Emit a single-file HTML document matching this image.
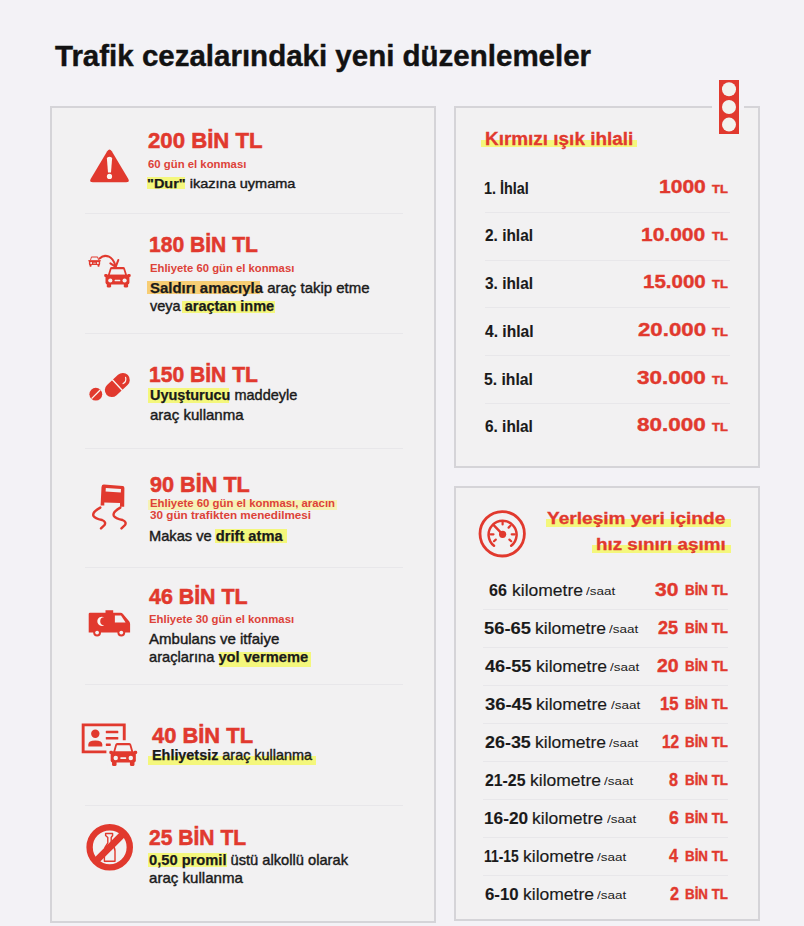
<!DOCTYPE html>
<html lang="tr"><head><meta charset="utf-8"><title>Trafik cezalarındaki yeni düzenlemeler</title>
<style>
*{margin:0;padding:0;box-sizing:border-box}
html,body{width:804px;height:926px;overflow:hidden;background:#f3f2f6}
body{position:relative;font-family:"Liberation Sans",Arial,sans-serif}
.t{position:absolute;white-space:nowrap;line-height:1}
.t b{font-weight:700}
.panel{position:absolute;border:2px solid #d5d4d8;background:#f2f1f2}
.sep{position:absolute;height:1px;background:#e8e7ea}
.hl{position:absolute}
.big{-webkit-text-stroke:0.55px currentColor}
.bd{-webkit-text-stroke:0.4px currentColor}
.bd b{-webkit-text-stroke:0.25px currentColor}
.ttl{-webkit-text-stroke:0.4px currentColor}
.rv{-webkit-text-stroke:0.4px currentColor}
.hd{-webkit-text-stroke:0.3px currentColor}
.lab{-webkit-text-stroke:0.1px currentColor}
.kmc{-webkit-text-stroke:0.15px currentColor}
</style></head>
<body>
<div class="panel" style="left:50px;top:106px;width:386px;height:817px"></div>
<div class="panel" style="left:454px;top:106px;width:306px;height:362px"></div>
<div class="panel" style="left:454px;top:486px;width:306px;height:435px"></div>
<div style="position:absolute;left:712px;top:104px;width:32px;height:6px;background:#f3f2f6"></div>
<div class="sep" style="left:85px;top:213px;width:318px"></div>
<div class="sep" style="left:85px;top:333px;width:318px"></div>
<div class="sep" style="left:85px;top:447.5px;width:318px"></div>
<div class="sep" style="left:85px;top:567px;width:318px"></div>
<div class="sep" style="left:85px;top:684px;width:318px"></div>
<div class="sep" style="left:85px;top:805px;width:318px"></div>
<div class="sep" style="left:485px;top:212.0px;width:245px"></div>
<div class="sep" style="left:485px;top:259.7px;width:245px"></div>
<div class="sep" style="left:485px;top:307.4px;width:245px"></div>
<div class="sep" style="left:485px;top:355.1px;width:245px"></div>
<div class="sep" style="left:485px;top:402.8px;width:245px"></div>
<div class="sep" style="left:483px;top:608.5px;width:245px"></div>
<div class="sep" style="left:483px;top:646.5px;width:245px"></div>
<div class="sep" style="left:483px;top:684.5px;width:245px"></div>
<div class="sep" style="left:483px;top:722.5px;width:245px"></div>
<div class="sep" style="left:483px;top:760.5px;width:245px"></div>
<div class="sep" style="left:483px;top:798.5px;width:245px"></div>
<div class="sep" style="left:483px;top:836.5px;width:245px"></div>
<div class="sep" style="left:483px;top:874.5px;width:245px"></div>
<div class="hl" style="left:146.5px;top:176.7px;width:38.0px;height:12.2px;background:#f4f77c"></div>
<div class="hl" style="left:147px;top:280.5px;width:113.0px;height:13.0px;background:#f7cd74"></div>
<div class="hl" style="left:182px;top:300.5px;width:93.0px;height:12.2px;background:#f4f77c"></div>
<div class="hl" style="left:147.5px;top:388.4px;width:81.5px;height:14.9px;background:#f4f77c"></div>
<div class="hl" style="left:148px;top:500px;width:189.0px;height:9.5px;background:#f6f2b4"></div>
<div class="hl" style="left:214.6px;top:529px;width:72.3px;height:14.0px;background:#f4f77c"></div>
<div class="hl" style="left:219px;top:651.6px;width:91.7px;height:15.6px;background:#f4f77c"></div>
<div class="hl" style="left:147.5px;top:755.8px;width:168.5px;height:9.0px;background:#f4f77c"></div>
<div class="hl" style="left:147.5px;top:853.4px;width:79.1px;height:13.8px;background:#f4f77c"></div>
<div class="hl" style="left:481.3px;top:139.9px;width:155.4px;height:7.3px;background:#f4f77c"></div>
<div class="hl" style="left:546.2px;top:518.7px;width:185.3px;height:8.7px;background:#f4f77c"></div>
<div class="hl" style="left:592.2px;top:544.8px;width:139.3px;height:8.7px;background:#f4f77c"></div>
<svg style="position:absolute;left:0;top:0" width="804" height="926" viewBox="0 0 804 926">
<defs>
<g id="car">
  <path d="M3.6 8.2 L5.7 1.4 Q6.1 0 7.4 0 L19.1 0 Q20.4 0 20.8 1.4 L22.9 8.2 Z" fill="#e1392e"/>
  <path d="M5.6 7.7 L7.3 2.1 L19.2 2.1 L20.9 7.7 Z" fill="#f2f1f2"/>
  <rect x="0" y="7" width="3.4" height="2.8" rx="1.2" fill="#e1392e"/>
  <rect x="23.1" y="7" width="3.4" height="2.8" rx="1.2" fill="#e1392e"/>
  <rect x="1.3" y="7.6" width="23.9" height="9.8" rx="2" fill="#e1392e"/>
  <rect x="2.6" y="15" width="4.3" height="5.5" rx="1.4" fill="#e1392e"/>
  <rect x="19.6" y="15" width="4.3" height="5.5" rx="1.4" fill="#e1392e"/>
  <circle cx="6.1" cy="13.4" r="2.1" fill="#f2f1f2"/>
  <circle cx="20.4" cy="13.4" r="2.1" fill="#f2f1f2"/>
  <rect x="10.4" y="12.7" width="5.7" height="1.5" rx="0.6" fill="#f2f1f2"/>
</g>
</defs>
<g fill="#e1392e" stroke="none">
<!-- 1 warning -->
<path d="M107.2 151.2 Q109.5 147.6 111.8 151.2 L128.2 178.8 Q130.2 182.3 126 182.3 L93 182.3 Q88.8 182.3 90.8 178.8 Z"/>
<path d="M106.9 158.5 Q106.9 156.8 109.5 156.8 Q112.1 156.8 112.1 158.5 L111 172.6 L108 172.6 Z" fill="#fbf6f2"/>
<circle cx="109.5" cy="176.4" r="2.6" fill="#fbf6f2"/>

<!-- 2 car follow -->
<use href="#car" transform="translate(88.3 256.4) scale(0.47 0.5)"/>
<path d="M99.6 258.6 Q103.5 254.6 108.6 256.4 Q113.2 258.4 115.4 265.6" fill="none" stroke="#e1392e" stroke-width="2.1" stroke-linecap="round"/>
<path d="M110.4 263.4 L115.7 266.9 L118.3 260" fill="none" stroke="#e1392e" stroke-width="2.1" stroke-linecap="round" stroke-linejoin="round"/>
<use href="#car" transform="translate(104.2 267.1)"/>

<!-- 3 pills -->
<circle cx="95.8" cy="394.2" r="6.4"/>
<line x1="91.6" y1="398.6" x2="100.2" y2="390" stroke="#fbf6f2" stroke-width="1.3"/>
<g transform="translate(117.3 385) rotate(-43)">
  <rect x="-14.5" y="-7" width="29" height="14" rx="7"/>
  <line x1="0" y1="-7.5" x2="0" y2="7.5" stroke="#fbf6f2" stroke-width="1.3"/>
  </g>
<path d="M125.6 377.3 Q126.8 381.4 123.1 383.6" fill="none" stroke="#fbf6f2" stroke-width="1.2" stroke-linecap="round"/>

<!-- 4 skid car -->
<path d="M104 484.6 L122.8 486.1 Q124.4 486.3 124.4 488 L124.2 506.8 L120 506.8 L120 503 L104.3 502.4 L104.3 505.4 L100.6 505.4 L101.5 487 Q101.8 484.4 104 484.6 Z"/>
<path d="M105.8 488 L121 489 L120.8 492.4 L105.6 491.6 Z" fill="#f2f1f2"/>
<path d="M100.3 507.6 Q92 512 93.4 515.8 Q95 518.5 102 520 Q106.5 522 104.5 525 L101 528.4" fill="none" stroke="#e1392e" stroke-width="2.4" stroke-linecap="round"/>
<path d="M120.3 507.6 Q112.3 512 113.8 515.8 Q115.5 518.5 122.5 520 Q127 522 125 525 L121.5 528.4" fill="none" stroke="#e1392e" stroke-width="2.4" stroke-linecap="round"/>

<!-- 5 ambulance -->
<path d="M88.7 614 Q88.7 612.7 90 612.7 L105.5 612.7 L105.5 610.2 L113.2 610.2 L113.2 612.7 L120.5 612.7 Q122 612.7 123 614 L129.3 621.5 Q130.1 622.5 130.1 624 L130.1 632.6 L88.7 632.6 Z"/>
<path d="M114.9 615.4 L121 615.4 L125.6 622.6 L114.9 622.6 Z" fill="#f2f1f2"/>
<circle cx="97.1" cy="632.6" r="3.9"/>
<circle cx="121.3" cy="632.6" r="3.9"/>
<circle cx="97.1" cy="632.6" r="1.9" fill="#f2f1f2"/>
<circle cx="121.3" cy="632.6" r="1.9" fill="#f2f1f2"/>
<path d="M104.2 617.3 A4.6 4.6 0 1 0 104.2 625.3 A3.7 3.7 0 1 1 104.2 617.3 Z" fill="#fbf6f2"/>

<!-- 6 license -->
<path d="M106.4 751.9 L83.15 751.9 L83.15 724.85 L124.25 724.85 L124.25 740.2" fill="none" stroke="#e1392e" stroke-width="2.9"/>
<circle cx="95.3" cy="733.7" r="4.2"/>
<path d="M88.3 746.4 L88.3 744.5 Q88.3 740.4 95.3 740.4 Q102.3 740.4 102.3 744.5 L102.3 746.4 Z"/>
<rect x="105.8" y="730.8" width="12.5" height="2.5" rx="0.6"/>
<rect x="105.8" y="737" width="12.5" height="2.5" rx="0.6"/>
<rect x="105.8" y="743.4" width="5" height="2.5" rx="0.6"/>
<rect x="111.8" y="741.2" width="27" height="27" fill="#f2f1f2"/>
<rect x="107.6" y="746.5" width="5" height="22" fill="#f2f1f2"/>
<use href="#car" transform="translate(109.3 743) scale(1.053 1.12)"/>

<!-- 7 no alcohol -->
<path d="M105.6 833.5 L112.6 833.5 L112.6 835.5 L111.2 837.5 L111.2 843 Q115 847 115 851 L115 861.2 L104.4 861.2 L104.4 851 Q104.4 847 107.8 843 L107.8 837.5 L105.6 835.5 Z" fill="none" stroke="#e1392e" stroke-width="1.4" stroke-linejoin="round"/>
<circle cx="109.7" cy="847.3" r="20.1" fill="none" stroke="#e1392e" stroke-width="6.4"/>
<line x1="124" y1="833" x2="95.4" y2="861.6" stroke="#e1392e" stroke-width="6.8"/>

<!-- 8 traffic light -->
<rect x="719" y="80" width="20" height="54"/>
<circle cx="729" cy="89.2" r="7" fill="#f2f2ee"/>
<circle cx="729" cy="107" r="7" fill="#f2f2ee"/>
<circle cx="729" cy="124.6" r="7" fill="#f2f2ee"/>

<!-- 9 speedometer -->
<circle cx="502.2" cy="533.8" r="22.2" fill="none" stroke="#e1392e" stroke-width="2.8"/>
<path d="M494 545.8 A14 14 0 1 1 511.2 545.8" fill="none" stroke="#e1392e" stroke-width="2.5" stroke-linecap="round"/>
<g stroke="#e1392e" stroke-width="2.2" stroke-linecap="round">
<line x1="502.6" y1="521.5" x2="502.6" y2="524.5"/>
<line x1="490.5" y1="534.3" x2="493.5" y2="534.3"/>
<line x1="511.7" y1="534.3" x2="514.7" y2="534.3"/>
<line x1="508.6" y1="527.6" x2="510.4" y2="525.8"/>
<line x1="494" y1="541.2" x2="495.8" y2="539.6"/>
<line x1="509.4" y1="539.6" x2="511.2" y2="541.2"/>
<line x1="502.6" y1="534.3" x2="493.2" y2="524.6" stroke-width="2.4"/>
</g>
<circle cx="502.6" cy="534.3" r="3.6"/>
</g>
</svg>

<span id="t0" class="t ttl" style="left:54.60px;top:41.14px;font-size:29.6px;font-weight:700;color:#121212;transform:scaleX(0.9967);transform-origin:0 0;">Trafik cezalarındaki yeni düzenlemeler</span>
<span id="t1" class="t big" style="left:148.01px;top:130.45px;font-size:21.8px;font-weight:700;color:#e1392e;transform:scaleX(1.0168);transform-origin:0 0;">200 BİN TL</span>
<span id="t2" class="t sm" style="left:148.05px;top:159.50px;font-size:10.4px;font-weight:700;color:#dd4239;transform:scaleX(1.0923);transform-origin:0 0;">60 gün el konması</span>
<span id="t3" class="t bd" style="left:146.97px;top:176.79px;font-size:13.6px;font-weight:400;color:#1a1a1a;transform:scaleX(1.0669);transform-origin:0 0;"><b>"Dur"</b> ikazına uymama</span>
<span id="t4" class="t big" style="left:149.21px;top:233.95px;font-size:21.8px;font-weight:700;color:#e1392e;transform:scaleX(0.9664);transform-origin:0 0;">180 BİN TL</span>
<span id="t5" class="t sm" style="left:150.25px;top:263.60px;font-size:10.4px;font-weight:700;color:#dd4239;transform:scaleX(1.0866);transform-origin:0 0;">Ehliyete 60 gün el konması</span>
<span id="t6" class="t bd" style="left:150.23px;top:280.68px;font-size:14.2px;font-weight:400;color:#1a1a1a;transform:scaleX(1.0541);transform-origin:0 0;"><b>Saldırı amacıyla</b> araç takip etme</span>
<span id="t7" class="t bd" style="left:150.21px;top:299.18px;font-size:14.2px;font-weight:400;color:#1a1a1a;transform:scaleX(1.0221);transform-origin:0 0;">veya <b>araçtan inme</b></span>
<span id="t8" class="t big" style="left:149.21px;top:363.95px;font-size:21.8px;font-weight:700;color:#e1392e;transform:scaleX(0.9664);transform-origin:0 0;">150 BİN TL</span>
<span id="t9" class="t bd" style="left:150.21px;top:388.28px;font-size:14.2px;font-weight:400;color:#1a1a1a;transform:scaleX(1.0207);transform-origin:0 0;"><b>Uyuşturucu</b> maddeyle</span>
<span id="t10" class="t bd" style="left:150.23px;top:407.68px;font-size:14.2px;font-weight:400;color:#1a1a1a;transform:scaleX(1.0600);transform-origin:0 0;">araç kullanma</span>
<span id="t11" class="t big" style="left:150.19px;top:473.95px;font-size:21.8px;font-weight:700;color:#e1392e;transform:scaleX(0.9931);transform-origin:0 0;">90 BİN TL</span>
<span id="t12" class="t sm" style="left:150.25px;top:499.10px;font-size:10.4px;font-weight:700;color:#dd4239;transform:scaleX(1.0935);transform-origin:0 0;">Ehliyete 60 gün el konması, aracın</span>
<span id="t13" class="t sm" style="left:150.27px;top:511.10px;font-size:10.4px;font-weight:700;color:#dd4239;transform:scaleX(1.1250);transform-origin:0 0;">30 gün trafikten menedilmesi</span>
<span id="t14" class="t bd" style="left:149.18px;top:528.68px;font-size:14.2px;font-weight:400;color:#1a1a1a;transform:scaleX(1.0331);transform-origin:0 0;">Makas ve <b>drift atma</b></span>
<span id="t15" class="t big" style="left:148.78px;top:586.05px;font-size:21.8px;font-weight:700;color:#e1392e;transform:scaleX(0.9812);transform-origin:0 0;">46 BİN TL</span>
<span id="t16" class="t sm" style="left:148.83px;top:615.10px;font-size:10.4px;font-weight:700;color:#dd4239;transform:scaleX(1.0925);transform-origin:0 0;">Ehliyete 30 gün el konması</span>
<span id="t17" class="t bd" style="left:148.81px;top:632.18px;font-size:14.2px;font-weight:400;color:#1a1a1a;transform:scaleX(1.0589);transform-origin:0 0;">Ambulans ve itfaiye</span>
<span id="t18" class="t bd" style="left:148.80px;top:650.08px;font-size:14.2px;font-weight:400;color:#1a1a1a;transform:scaleX(1.0351);transform-origin:0 0;">araçlarına <b>yol vermeme</b></span>
<span id="t19" class="t big" style="left:151.60px;top:724.85px;font-size:21.8px;font-weight:700;color:#e1392e;transform:scaleX(1.0050);transform-origin:0 0;">40 BİN TL</span>
<span id="t20" class="t bd" style="left:151.60px;top:748.28px;font-size:14.2px;font-weight:400;color:#1a1a1a;transform:scaleX(1.0138);transform-origin:0 0;"><b>Ehliyetsiz</b> araç kullanma</span>
<span id="t21" class="t big" style="left:148.78px;top:826.95px;font-size:21.8px;font-weight:700;color:#e1392e;transform:scaleX(0.9663);transform-origin:0 0;">25 BİN TL</span>
<span id="t22" class="t bd" style="left:148.80px;top:852.78px;font-size:14.2px;font-weight:400;color:#1a1a1a;transform:scaleX(1.0340);transform-origin:0 0;"><b>0,50 promil</b> üstü alkollü olarak</span>
<span id="t23" class="t bd" style="left:148.82px;top:870.68px;font-size:14.2px;font-weight:400;color:#1a1a1a;transform:scaleX(1.0629);transform-origin:0 0;">araç kullanma</span>
<span id="t24" class="t hd" style="left:484.98px;top:130.11px;font-size:18.3px;font-weight:700;color:#e1392e;transform:scaleX(1.0350);transform-origin:0 0;">Kırmızı ışık ihlali</span>
<span id="t25" class="t lab" style="left:484.06px;top:179.70px;font-size:16.3px;font-weight:700;color:#1a1a1a;transform:scaleX(0.8840);transform-origin:0 0;">1. İhlal</span>
<span id="t26" class="t rv" style="left:659.34px;top:177.84px;font-size:18.5px;font-weight:700;color:#e1392e;transform:scaleX(1.1366);transform-origin:0 0;">1000</span>
<span id="t27" class="t rv" style="left:711.63px;top:183.77px;font-size:11.5px;font-weight:700;color:#e1392e;transform:scaleX(1.1267);transform-origin:0 0;">TL</span>
<span id="t28" class="t lab" style="left:484.97px;top:227.40px;font-size:16.3px;font-weight:700;color:#1a1a1a;transform:scaleX(0.9471);transform-origin:0 0;">2. ihlal</span>
<span id="t29" class="t rv" style="left:641.14px;top:225.54px;font-size:18.5px;font-weight:700;color:#e1392e;transform:scaleX(1.1351);transform-origin:0 0;">10.000</span>
<span id="t30" class="t rv" style="left:711.63px;top:231.47px;font-size:11.5px;font-weight:700;color:#e1392e;transform:scaleX(1.1267);transform-origin:0 0;">TL</span>
<span id="t31" class="t lab" style="left:484.97px;top:275.10px;font-size:16.3px;font-weight:700;color:#1a1a1a;transform:scaleX(0.9471);transform-origin:0 0;">3. ihlal</span>
<span id="t32" class="t rv" style="left:643.20px;top:273.24px;font-size:18.5px;font-weight:700;color:#e1392e;transform:scaleX(1.1088);transform-origin:0 0;">15.000</span>
<span id="t33" class="t rv" style="left:711.63px;top:279.17px;font-size:11.5px;font-weight:700;color:#e1392e;transform:scaleX(1.1267);transform-origin:0 0;">TL</span>
<span id="t34" class="t lab" style="left:484.98px;top:322.80px;font-size:16.3px;font-weight:700;color:#1a1a1a;transform:scaleX(0.9588);transform-origin:0 0;">4. ihlal</span>
<span id="t35" class="t rv" style="left:637.56px;top:320.94px;font-size:18.5px;font-weight:700;color:#e1392e;transform:scaleX(1.2018);transform-origin:0 0;">20.000</span>
<span id="t36" class="t rv" style="left:711.63px;top:326.87px;font-size:11.5px;font-weight:700;color:#e1392e;transform:scaleX(1.1267);transform-origin:0 0;">TL</span>
<span id="t37" class="t lab" style="left:484.02px;top:370.50px;font-size:16.3px;font-weight:700;color:#1a1a1a;transform:scaleX(0.9640);transform-origin:0 0;">5. ihlal</span>
<span id="t38" class="t rv" style="left:637.00px;top:368.64px;font-size:18.5px;font-weight:700;color:#e1392e;transform:scaleX(1.2158);transform-origin:0 0;">30.000</span>
<span id="t39" class="t rv" style="left:711.63px;top:374.57px;font-size:11.5px;font-weight:700;color:#e1392e;transform:scaleX(1.1267);transform-origin:0 0;">TL</span>
<span id="t40" class="t lab" style="left:484.97px;top:418.20px;font-size:16.3px;font-weight:700;color:#1a1a1a;transform:scaleX(0.9451);transform-origin:0 0;">6. ihlal</span>
<span id="t41" class="t rv" style="left:637.00px;top:416.34px;font-size:18.5px;font-weight:700;color:#e1392e;transform:scaleX(1.2158);transform-origin:0 0;">80.000</span>
<span id="t42" class="t rv" style="left:711.63px;top:422.27px;font-size:11.5px;font-weight:700;color:#e1392e;transform:scaleX(1.1267);transform-origin:0 0;">TL</span>
<span id="t43" class="t hd" style="left:547.00px;top:511.35px;font-size:16.6px;font-weight:700;color:#e1392e;transform:scaleX(1.1503);transform-origin:0 0;">Yerleşim yeri içinde</span>
<span id="t44" class="t hd" style="left:596.00px;top:536.75px;font-size:16.6px;font-weight:700;color:#e1392e;transform:scaleX(1.1342);transform-origin:0 0;">hız sınırı aşımı</span>
<span id="t45" class="t lab" style="left:488.78px;top:582.10px;font-size:16.3px;font-weight:700;color:#1a1a1a;transform:scaleX(0.9842);transform-origin:0 0;">66</span>
<span id="t46" class="t kmc" style="left:511.50px;top:582.10px;font-size:16.3px;font-weight:400;color:#1a1a1a;transform:scaleX(1.0758);transform-origin:0 0;">kilometre</span>
<span id="t47" class="t " style="left:585.80px;top:585.91px;font-size:11.8px;font-weight:400;color:#1a1a1a;transform:scaleX(1.1385);transform-origin:0 0;">/saat</span>
<span id="t48" class="t rv" style="left:655.28px;top:580.81px;font-size:18.3px;font-weight:700;color:#e1392e;transform:scaleX(1.1476);transform-origin:0 0;">30</span>
<span id="t49" class="t rv" style="left:684.61px;top:583.36px;font-size:14.1px;font-weight:700;color:#e1392e;transform:scaleX(0.9457);transform-origin:0 0;">BİN TL</span>
<span id="t50" class="t lab" style="left:483.71px;top:620.10px;font-size:16.3px;font-weight:700;color:#1a1a1a;transform:scaleX(1.1268);transform-origin:0 0;">56-65</span>
<span id="t51" class="t kmc" style="left:535.00px;top:620.10px;font-size:16.3px;font-weight:400;color:#1a1a1a;transform:scaleX(1.0758);transform-origin:0 0;">kilometre</span>
<span id="t52" class="t " style="left:609.30px;top:623.91px;font-size:11.8px;font-weight:400;color:#1a1a1a;transform:scaleX(1.1385);transform-origin:0 0;">/saat</span>
<span id="t53" class="t rv" style="left:658.00px;top:618.81px;font-size:18.3px;font-weight:700;color:#e1392e;transform:scaleX(0.9857);transform-origin:0 0;">25</span>
<span id="t54" class="t rv" style="left:684.61px;top:621.36px;font-size:14.1px;font-weight:700;color:#e1392e;transform:scaleX(0.9457);transform-origin:0 0;">BİN TL</span>
<span id="t55" class="t lab" style="left:484.84px;top:658.10px;font-size:16.3px;font-weight:700;color:#1a1a1a;transform:scaleX(1.1143);transform-origin:0 0;">46-55</span>
<span id="t56" class="t kmc" style="left:535.60px;top:658.10px;font-size:16.3px;font-weight:400;color:#1a1a1a;transform:scaleX(1.0758);transform-origin:0 0;">kilometre</span>
<span id="t57" class="t " style="left:609.90px;top:661.91px;font-size:11.8px;font-weight:400;color:#1a1a1a;transform:scaleX(1.1385);transform-origin:0 0;">/saat</span>
<span id="t58" class="t rv" style="left:656.62px;top:656.81px;font-size:18.3px;font-weight:700;color:#e1392e;transform:scaleX(1.0667);transform-origin:0 0;">20</span>
<span id="t59" class="t rv" style="left:684.61px;top:659.36px;font-size:14.1px;font-weight:700;color:#e1392e;transform:scaleX(0.9457);transform-origin:0 0;">BİN TL</span>
<span id="t60" class="t lab" style="left:484.84px;top:696.10px;font-size:16.3px;font-weight:700;color:#1a1a1a;transform:scaleX(1.1310);transform-origin:0 0;">36-45</span>
<span id="t61" class="t kmc" style="left:536.30px;top:696.10px;font-size:16.3px;font-weight:400;color:#1a1a1a;transform:scaleX(1.0758);transform-origin:0 0;">kilometre</span>
<span id="t62" class="t " style="left:610.60px;top:699.91px;font-size:11.8px;font-weight:400;color:#1a1a1a;transform:scaleX(1.1385);transform-origin:0 0;">/saat</span>
<span id="t63" class="t rv" style="left:660.04px;top:694.81px;font-size:18.3px;font-weight:700;color:#e1392e;transform:scaleX(0.9100);transform-origin:0 0;">15</span>
<span id="t64" class="t rv" style="left:684.61px;top:697.36px;font-size:14.1px;font-weight:700;color:#e1392e;transform:scaleX(0.9457);transform-origin:0 0;">BİN TL</span>
<span id="t65" class="t lab" style="left:484.83px;top:734.10px;font-size:16.3px;font-weight:700;color:#1a1a1a;transform:scaleX(1.1000);transform-origin:0 0;">26-35</span>
<span id="t66" class="t kmc" style="left:535.00px;top:734.10px;font-size:16.3px;font-weight:400;color:#1a1a1a;transform:scaleX(1.0758);transform-origin:0 0;">kilometre</span>
<span id="t67" class="t " style="left:609.30px;top:737.91px;font-size:11.8px;font-weight:400;color:#1a1a1a;transform:scaleX(1.1385);transform-origin:0 0;">/saat</span>
<span id="t68" class="t rv" style="left:661.63px;top:732.81px;font-size:18.3px;font-weight:700;color:#e1392e;transform:scaleX(0.8450);transform-origin:0 0;">12</span>
<span id="t69" class="t rv" style="left:684.61px;top:735.36px;font-size:14.1px;font-weight:700;color:#e1392e;transform:scaleX(0.9457);transform-origin:0 0;">BİN TL</span>
<span id="t70" class="t lab" style="left:484.78px;top:772.10px;font-size:16.3px;font-weight:700;color:#1a1a1a;transform:scaleX(0.9714);transform-origin:0 0;">21-25</span>
<span id="t71" class="t kmc" style="left:529.60px;top:772.10px;font-size:16.3px;font-weight:400;color:#1a1a1a;transform:scaleX(1.0758);transform-origin:0 0;">kilometre</span>
<span id="t72" class="t " style="left:603.90px;top:775.91px;font-size:11.8px;font-weight:400;color:#1a1a1a;transform:scaleX(1.1385);transform-origin:0 0;">/saat</span>
<span id="t73" class="t rv" style="left:669.00px;top:770.81px;font-size:18.3px;font-weight:700;color:#e1392e;transform:scaleX(0.8818);transform-origin:0 0;">8</span>
<span id="t74" class="t rv" style="left:684.61px;top:773.36px;font-size:14.1px;font-weight:700;color:#e1392e;transform:scaleX(0.9457);transform-origin:0 0;">BİN TL</span>
<span id="t75" class="t lab" style="left:483.75px;top:810.10px;font-size:16.3px;font-weight:700;color:#1a1a1a;transform:scaleX(1.0610);transform-origin:0 0;">16-20</span>
<span id="t76" class="t kmc" style="left:532.30px;top:810.10px;font-size:16.3px;font-weight:400;color:#1a1a1a;transform:scaleX(1.0758);transform-origin:0 0;">kilometre</span>
<span id="t77" class="t " style="left:606.60px;top:813.91px;font-size:11.8px;font-weight:400;color:#1a1a1a;transform:scaleX(1.1385);transform-origin:0 0;">/saat</span>
<span id="t78" class="t rv" style="left:669.00px;top:808.81px;font-size:18.3px;font-weight:700;color:#e1392e;transform:scaleX(0.9700);transform-origin:0 0;">6</span>
<span id="t79" class="t rv" style="left:684.61px;top:811.36px;font-size:14.1px;font-weight:700;color:#e1392e;transform:scaleX(0.9457);transform-origin:0 0;">BİN TL</span>
<span id="t80" class="t lab" style="left:483.88px;top:848.10px;font-size:16.3px;font-weight:700;color:#1a1a1a;transform:scaleX(0.8525);transform-origin:0 0;">11-15</span>
<span id="t81" class="t kmc" style="left:522.90px;top:848.10px;font-size:16.3px;font-weight:400;color:#1a1a1a;transform:scaleX(1.0758);transform-origin:0 0;">kilometre</span>
<span id="t82" class="t " style="left:597.20px;top:851.91px;font-size:11.8px;font-weight:400;color:#1a1a1a;transform:scaleX(1.1385);transform-origin:0 0;">/saat</span>
<span id="t83" class="t rv" style="left:668.89px;top:846.81px;font-size:18.3px;font-weight:700;color:#e1392e;transform:scaleX(0.8917);transform-origin:0 0;">4</span>
<span id="t84" class="t rv" style="left:684.61px;top:849.36px;font-size:14.1px;font-weight:700;color:#e1392e;transform:scaleX(0.9457);transform-origin:0 0;">BİN TL</span>
<span id="t85" class="t lab" style="left:484.80px;top:886.10px;font-size:16.3px;font-weight:700;color:#1a1a1a;transform:scaleX(1.0333);transform-origin:0 0;">6-10</span>
<span id="t86" class="t kmc" style="left:522.90px;top:886.10px;font-size:16.3px;font-weight:400;color:#1a1a1a;transform:scaleX(1.0758);transform-origin:0 0;">kilometre</span>
<span id="t87" class="t " style="left:597.20px;top:889.91px;font-size:11.8px;font-weight:400;color:#1a1a1a;transform:scaleX(1.1385);transform-origin:0 0;">/saat</span>
<span id="t88" class="t rv" style="left:669.62px;top:884.81px;font-size:18.3px;font-weight:700;color:#e1392e;transform:scaleX(0.8900);transform-origin:0 0;">2</span>
<span id="t89" class="t rv" style="left:684.61px;top:887.36px;font-size:14.1px;font-weight:700;color:#e1392e;transform:scaleX(0.9457);transform-origin:0 0;">BİN TL</span>
</body></html>
